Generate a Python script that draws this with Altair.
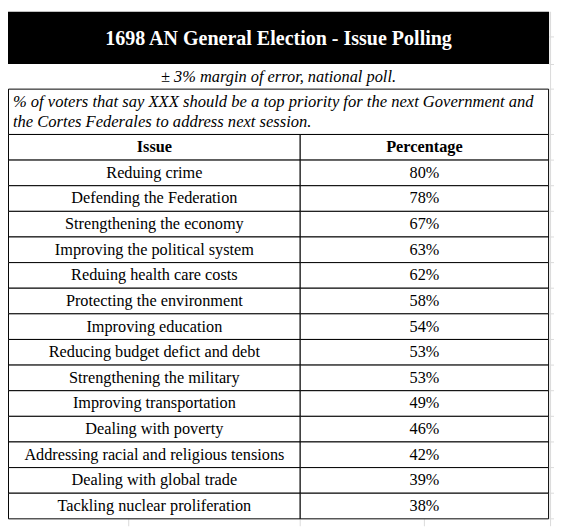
import altair as alt
import pandas as pd

# ---- data ----
title = "1698 AN General Election - Issue Polling"
subtitle = "± 3% margin of error, national poll."
note_lines = [
    "% of voters that say XXX should be a top priority for the next Government and",
    "the Cortes Federales to address next session.",
]
headers = ["Issue", "Percentage"]
issues = [
    "Reduing crime",
    "Defending the Federation",
    "Strengthening the economy",
    "Improving the political system",
    "Reduing health care costs",
    "Protecting the environment",
    "Improving education",
    "Reducing budget defict and debt",
    "Strengthening the military",
    "Improving transportation",
    "Dealing with poverty",
    "Addressing racial and religious tensions",
    "Dealing with global trade",
    "Tackling nuclear proliferation",
]
percentages = [80, 78, 67, 63, 62, 58, 54, 53, 53, 49, 46, 42, 39, 38]

# ---- layout (pixel-like coordinate system) ----
W, H = 554, 522
X_L, X_D, X_R = 0.5, 296.5, 548.5          # table left, column divider, right
BAR_TOP, BAR_BOT = 0, 53
NOTE_TOP, HEAD_TOP, ROW_TOP = 78.5, 124.5, 150.5
ROW_H = 26
FONT = "Liberation Serif"

xs = alt.Scale(domain=[0, W], nice=False, zero=False)
ys = alt.Scale(domain=[0, H], reverse=True, nice=False, zero=False)


def X(f="x"):
    return alt.X(f"{f}:Q", scale=xs, axis=None)


def Y(f="y"):
    return alt.Y(f"{f}:Q", scale=ys, axis=None)


n = len(issues)
bottom = ROW_TOP + n * ROW_H

# spreadsheet gridlines (light gray)
grid_h = [25.5, 53.5, 78.5, HEAD_TOP] + [ROW_TOP + i * ROW_H for i in range(n + 1)]
gh_df = pd.DataFrame({"x": 549.5, "x2": W, "y": grid_h})
gv_df = pd.DataFrame({"x": [122.5, 296.5, 422.5], "y": bottom + 0.5, "y2": H})
grid_h_layer = alt.Chart(gh_df).mark_rule(color="#dadada", strokeWidth=1).encode(
    x=X(), x2="x2:Q", y=Y())
grid_v_layer = alt.Chart(gv_df).mark_rule(color="#dadada", strokeWidth=1).encode(
    x=X(), y=Y(), y2="y2:Q")
grid_edge = alt.Chart(pd.DataFrame({"x": [550.5], "y": [0], "y2": [H]})).mark_rule(
    color="#dadada", strokeWidth=1).encode(x=X(), y=Y(), y2="y2:Q")

# title bar
bar_df = pd.DataFrame({"x": [0], "x2": [549], "y": [BAR_TOP], "y2": [BAR_BOT]})
bar = alt.Chart(bar_df).mark_rect(color="black").encode(
    x=X(), x2="x2:Q", y=Y(), y2="y2:Q")
title_df = pd.DataFrame({"x": [274.5], "y": [28], "t": [title]})
title_txt = alt.Chart(title_df).mark_text(
    font=FONT, fontSize=20.3, fontWeight="bold", color="white", baseline="middle"
).encode(x=X(), y=Y(), text="t:N")

# subtitle
sub_df = pd.DataFrame({"x": [274.5], "y": [66], "t": [subtitle]})
sub_txt = alt.Chart(sub_df).mark_text(
    font=FONT, fontSize=16.6, fontStyle="italic", color="black", baseline="middle"
).encode(x=X(), y=Y(), text="t:N")

# note box
note_box = alt.Chart(pd.DataFrame({"x": [X_L], "x2": [X_R], "y": [NOTE_TOP], "y2": [HEAD_TOP]})).mark_rect(
    fill="white", stroke="black", strokeWidth=1).encode(x=X(), x2="x2:Q", y=Y(), y2="y2:Q")
note_df = pd.DataFrame({"x": [5, 5], "y": [92, 112], "t": note_lines})
note_txt = alt.Chart(note_df).mark_text(
    font=FONT, fontSize=16.8, fontStyle="italic", color="black", align="left", baseline="middle"
).encode(x=X(), y=Y(), text="t:N")

# cells: header + data rows, two columns
cells = []
texts = []
for c, (x0, x1) in enumerate([(X_L, X_D), (X_D, X_R)]):
    cells.append({"x": x0, "x2": x1, "y": HEAD_TOP, "y2": ROW_TOP})
    texts.append({"x": (x0 + x1) / 2, "y": HEAD_TOP + ROW_H / 2, "t": headers[c], "w": "bold"})
    for i in range(n):
        y0 = ROW_TOP + i * ROW_H
        cells.append({"x": x0, "x2": x1, "y": y0, "y2": y0 + ROW_H})
        label = issues[i] if c == 0 else f"{percentages[i]}%"
        texts.append({"x": (x0 + x1) / 2, "y": y0 + ROW_H / 2, "t": label, "w": "normal"})
cells_df = pd.DataFrame(cells)
texts_df = pd.DataFrame(texts)

cell_layer = alt.Chart(cells_df).mark_rect(fill="white", stroke="black", strokeWidth=1).encode(
    x=X(), x2="x2:Q", y=Y(), y2="y2:Q")
head_txt = alt.Chart(texts_df[texts_df.w == "bold"]).mark_text(
    font=FONT, fontSize=16.5, fontWeight="bold", color="black", baseline="middle"
).encode(x=X(), y=Y(), text="t:N")
row_txt = alt.Chart(texts_df[texts_df.w == "normal"]).mark_text(
    font=FONT, fontSize=16.5, color="black", baseline="middle"
).encode(x=X(), y=Y(), text="t:N")

chart = alt.layer(
    grid_h_layer, grid_v_layer, grid_edge, bar, title_txt, sub_txt,
    note_box, note_txt, cell_layer, head_txt, row_txt
).properties(
    width=W, height=H, autosize=alt.AutoSizeParams(type="none"), padding=0,
    background="white"
).configure_view(stroke=None)

chart.save("out.html", embed_options={"renderer": "svg", "actions": False})
